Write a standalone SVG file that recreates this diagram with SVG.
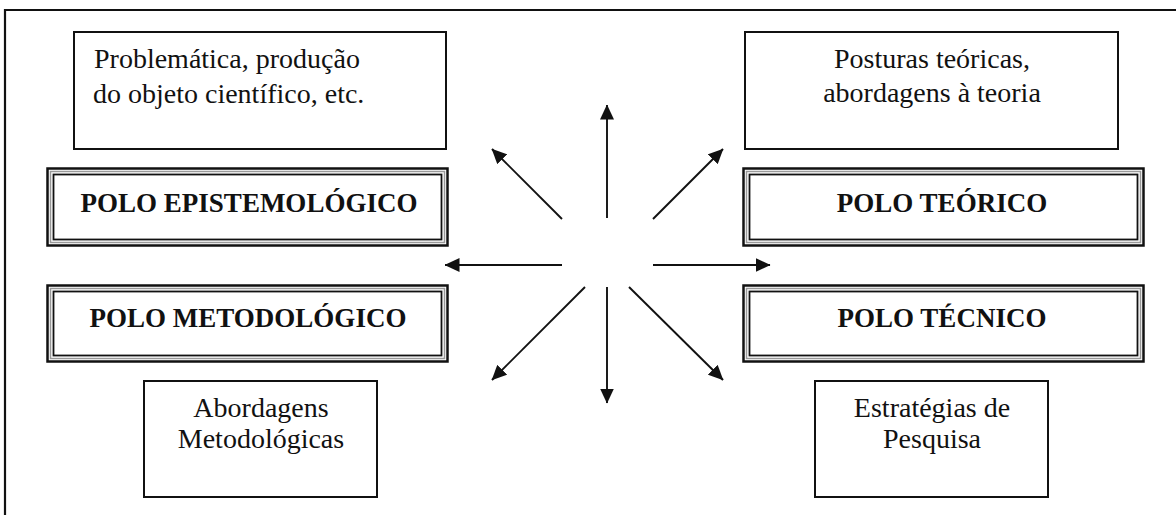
<svg xmlns="http://www.w3.org/2000/svg" width="1176" height="515" viewBox="0 0 1176 515">
<style>
.frame{fill:none;stroke:#111;stroke-width:2.2}
.box{fill:#fff;stroke:#111;stroke-width:2}
.dbo{fill:#fff;stroke:#111;stroke-width:2.5}
.dbi{fill:none;stroke:#111;stroke-width:1.8}
.dbm{fill:none;stroke:#999;stroke-width:1.5}
.t{font-family:"Liberation Serif","Times New Roman",serif;font-size:28px;fill:#111}
.b{font-family:"Liberation Serif","Times New Roman",serif;font-size:27px;font-weight:bold;fill:#111;text-anchor:middle}
.c{text-anchor:middle}
.arr{stroke:#111;stroke-width:1.9;fill:none;marker-end:url(#ah)}
</style>
<defs>
<marker id="ah" viewBox="0 0 15 14" refX="14.5" refY="7" markerWidth="15" markerHeight="14" markerUnits="userSpaceOnUse" orient="auto">
<path d="M0,0 L15,7 L0,14 z" fill="#111"/>
</marker>
</defs>
<rect width="1176" height="515" fill="#fff"/>
<path class="frame" d="M5,515 V10 H1176"/>

<g id="box-problematica">
<rect class="box" x="74" y="32" width="372" height="117"/>
<text class="t" x="94" y="68">Problemática, produção</text>
<text class="t" x="93" y="103">do objeto científico, etc.</text>
</g>

<g id="box-posturas">
<rect class="box" x="745" y="32" width="373" height="117"/>
<text class="t c" x="932" y="68">Posturas teóricas,</text>
<text class="t c" x="932" y="102">abordagens à teoria</text>
</g>

<g id="polo-epistemologico">
<rect class="dbo" x="47.5" y="168.5" width="400" height="77"/>
<rect class="dbm" x="50.5" y="171.5" width="394" height="71"/>
<rect class="dbi" x="53.5" y="174.5" width="388" height="65"/>
<text class="b" x="249" y="212">POLO EPISTEMOLÓGICO</text>
</g>

<g id="polo-teorico">
<rect class="dbo" x="743.5" y="168.5" width="400" height="77"/>
<rect class="dbm" x="746.5" y="171.5" width="394" height="71"/>
<rect class="dbi" x="749.5" y="174.5" width="388" height="65"/>
<text class="b" x="942" y="212">POLO TEÓRICO</text>
</g>

<g id="polo-metodologico">
<rect class="dbo" x="47.5" y="285.5" width="400" height="76"/>
<rect class="dbm" x="50.5" y="288.5" width="394" height="70"/>
<rect class="dbi" x="53.5" y="291.5" width="388" height="64"/>
<text class="b" x="248" y="327">POLO METODOLÓGICO</text>
</g>

<g id="polo-tecnico">
<rect class="dbo" x="743.5" y="285.5" width="400" height="76"/>
<rect class="dbm" x="746.5" y="288.5" width="394" height="70"/>
<rect class="dbi" x="749.5" y="291.5" width="388" height="64"/>
<text class="b" x="942" y="327">POLO TÉCNICO</text>
</g>

<g id="box-abordagens">
<rect class="box" x="144" y="381" width="233" height="116"/>
<text class="t c" x="261" y="417">Abordagens</text>
<text class="t c" x="261" y="448">Metodológicas</text>
</g>

<g id="box-estrategias">
<rect class="box" x="815" y="381" width="233" height="116"/>
<text class="t c" x="932" y="417">Estratégias de</text>
<text class="t c" x="932" y="448">Pesquisa</text>
</g>

<g id="connectors">
<line class="arr" x1="607" y1="218" x2="607" y2="105"/>
<line class="arr" x1="562" y1="219" x2="492" y2="149"/>
<line class="arr" x1="653" y1="219" x2="723" y2="149"/>
<line class="arr" x1="562" y1="265" x2="445" y2="265"/>
<line class="arr" x1="653" y1="265" x2="770" y2="265"/>
<line class="arr" x1="585" y1="287" x2="492" y2="380"/>
<line class="arr" x1="607" y1="287" x2="607" y2="403"/>
<line class="arr" x1="629" y1="287" x2="723" y2="380"/>
</g>
</svg>
